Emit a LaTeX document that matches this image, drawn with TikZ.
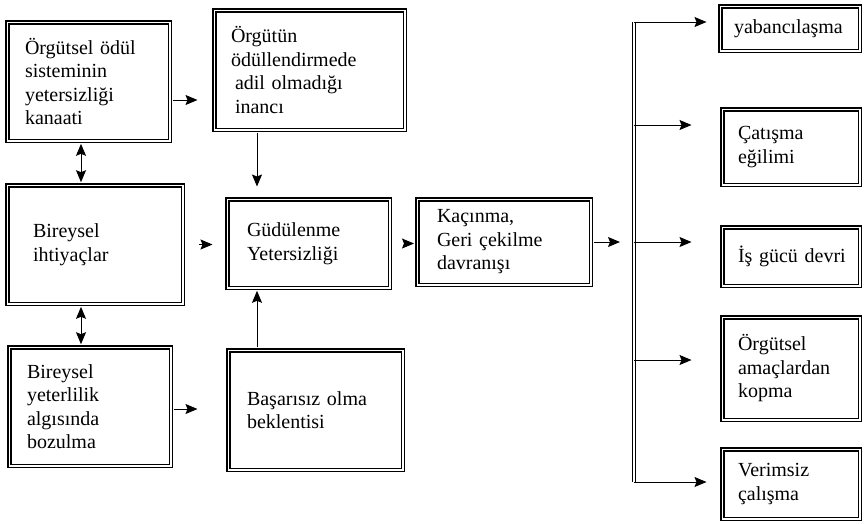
\documentclass[tikz,border=0pt]{standalone}
\usepackage{fontspec}
\setmainfont{Liberation Serif}
\usetikzlibrary{arrows.meta}
\begin{document}
\begin{tikzpicture}[x=1pt,y=-1pt,
  box/.style={draw, line width=1.5pt, double, double distance=1.5pt, inner sep=0pt,
    align=left, font=\fontsize{20}{23.5}\selectfont},
  arr/.style={line width=1pt, -{Stealth[length=12pt,width=10pt,inset=2pt]}},
  darr/.style={line width=1pt, {Stealth[length=12pt,width=10pt,inset=2pt]}-{Stealth[length=12pt,width=10pt,inset=2pt]}},
  bus/.style={line width=1.1pt, double, double distance=2.2pt}]
\useasboundingbox (0,0) rectangle (866,523);

% left column
\node[box, minimum width=162.5pt, minimum height=118.5pt, text width=127pt] (A) at (88.5,81.5)
  {Örgütsel ödül\\sisteminin\\yetersizliği\\kanaati};
\node[box, minimum width=175.5pt, minimum height=118.5pt, text width=124pt] (C) at (95,244.5)
  {Bireysel\\ihtiyaçlar};
\node[box, minimum width=161.5pt, minimum height=118.5pt, text width=126pt] (F) at (90,406.5)
  {Bireysel\\yeterlilik\\algısında\\bozulma};

% middle column
\node[box, minimum width=190.5pt, minimum height=119.5pt, text width=157pt] (B) at (309.5,70)
  {Örgütün\\ödüllendirmede\\\hspace*{4pt}adil olmadığı\\\hspace*{4pt}inancı};
\node[box, minimum width=162.5pt, minimum height=88.5pt, text width=123pt] (D) at (308.5,243.5)
  {Güdülenme\\Yetersizliği};
\node[box, minimum width=174.5pt, minimum height=119.5pt, text width=137pt] (G) at (315.5,410)
  {Başarısız olma\\beklentisi};

\node[box, minimum width=173.5pt, minimum height=85.5pt, text width=134pt] (E) at (504,242)
  {Kaçınma,\\Geri çekilme\\davranışı};

% right column
\node[box, minimum width=139.5pt, minimum height=44.5pt, text width=112pt] (R1) at (790,28.5)
  {\mbox{yabancılaşma}};
\node[box, minimum width=137.5pt, minimum height=75.5pt, text width=106pt] (R2) at (791,147)
  {Çatışma\\eğilimi};
\node[box, minimum width=137.5pt, minimum height=58.5pt, text width=106pt] (R3) at (791,256.5)
  {\mbox{İş gücü devri}};
\node[box, minimum width=137.5pt, minimum height=102.5pt, text width=106pt] (R4) at (791,368.5)
  {Örgütsel\\amaçlardan\\kopma};
\node[box, minimum width=137.5pt, minimum height=69.5pt, text width=106pt] (R5) at (791,484)
  {Verimsiz\\çalışma};

% helper coordinates
\coordinate (xac) at (81,0);
\coordinate (xbd) at (257,0);
\coordinate (yab) at (0,100);
\coordinate (yfg) at (0,409);
\coordinate (bt) at (634,22);
\coordinate (t2) at (634,125);
\coordinate (t3) at (634,242);
\coordinate (t4) at (634,360);
\coordinate (bb) at (634,482);

% double arrows left
\draw[darr, shorten <=2.3pt, shorten >=2.3pt] (xac |- A.south) -- (xac |- C.north);
\draw[darr, shorten <=2.3pt, shorten >=2.3pt] (xac |- C.south) -- (xac |- F.north);

% horizontal arrows
\draw[arr, shorten <=2.3pt, shorten >=16pt] (A.east |- yab) -- (B.west |- yab);
\draw[arr, shorten <=15pt, shorten >=14pt] (C.east) -- (D.west |- C.east);
\draw[arr, shorten <=2.3pt, shorten >=30pt] (F.east |- yfg) -- (G.west |- yfg);
\draw[arr, shorten <=14pt, shorten >=2.5pt] (D.east) -- (E.west |- D.east);
\draw[arr, shorten <=2.3pt, shorten >=14pt] (E.east) -- (bt |- E.east);

% vertical arrows into D
\draw[arr, shorten <=2.3pt, shorten >=12pt] (xbd |- B.south) -- (xbd |- D.north);
\draw[arr, shorten <=2.3pt, shorten >=2.3pt] (xbd |- G.north) -- (xbd |- D.south);

% bus
\draw[bus] (bt) -- (bb);
\draw[arr, shorten >=13pt] (bt) -- (R1.west |- bt);
\draw[arr, shorten >=30pt] (t2) -- (R2.west |- t2);
\draw[arr, shorten >=30pt] (t3) -- (R3.west |- t3);
\draw[arr, shorten >=30pt] (t4) -- (R4.west |- t4);
\draw[arr, shorten >=15pt] (bb) -- (R5.west |- bb);
\end{tikzpicture}
\end{document}
